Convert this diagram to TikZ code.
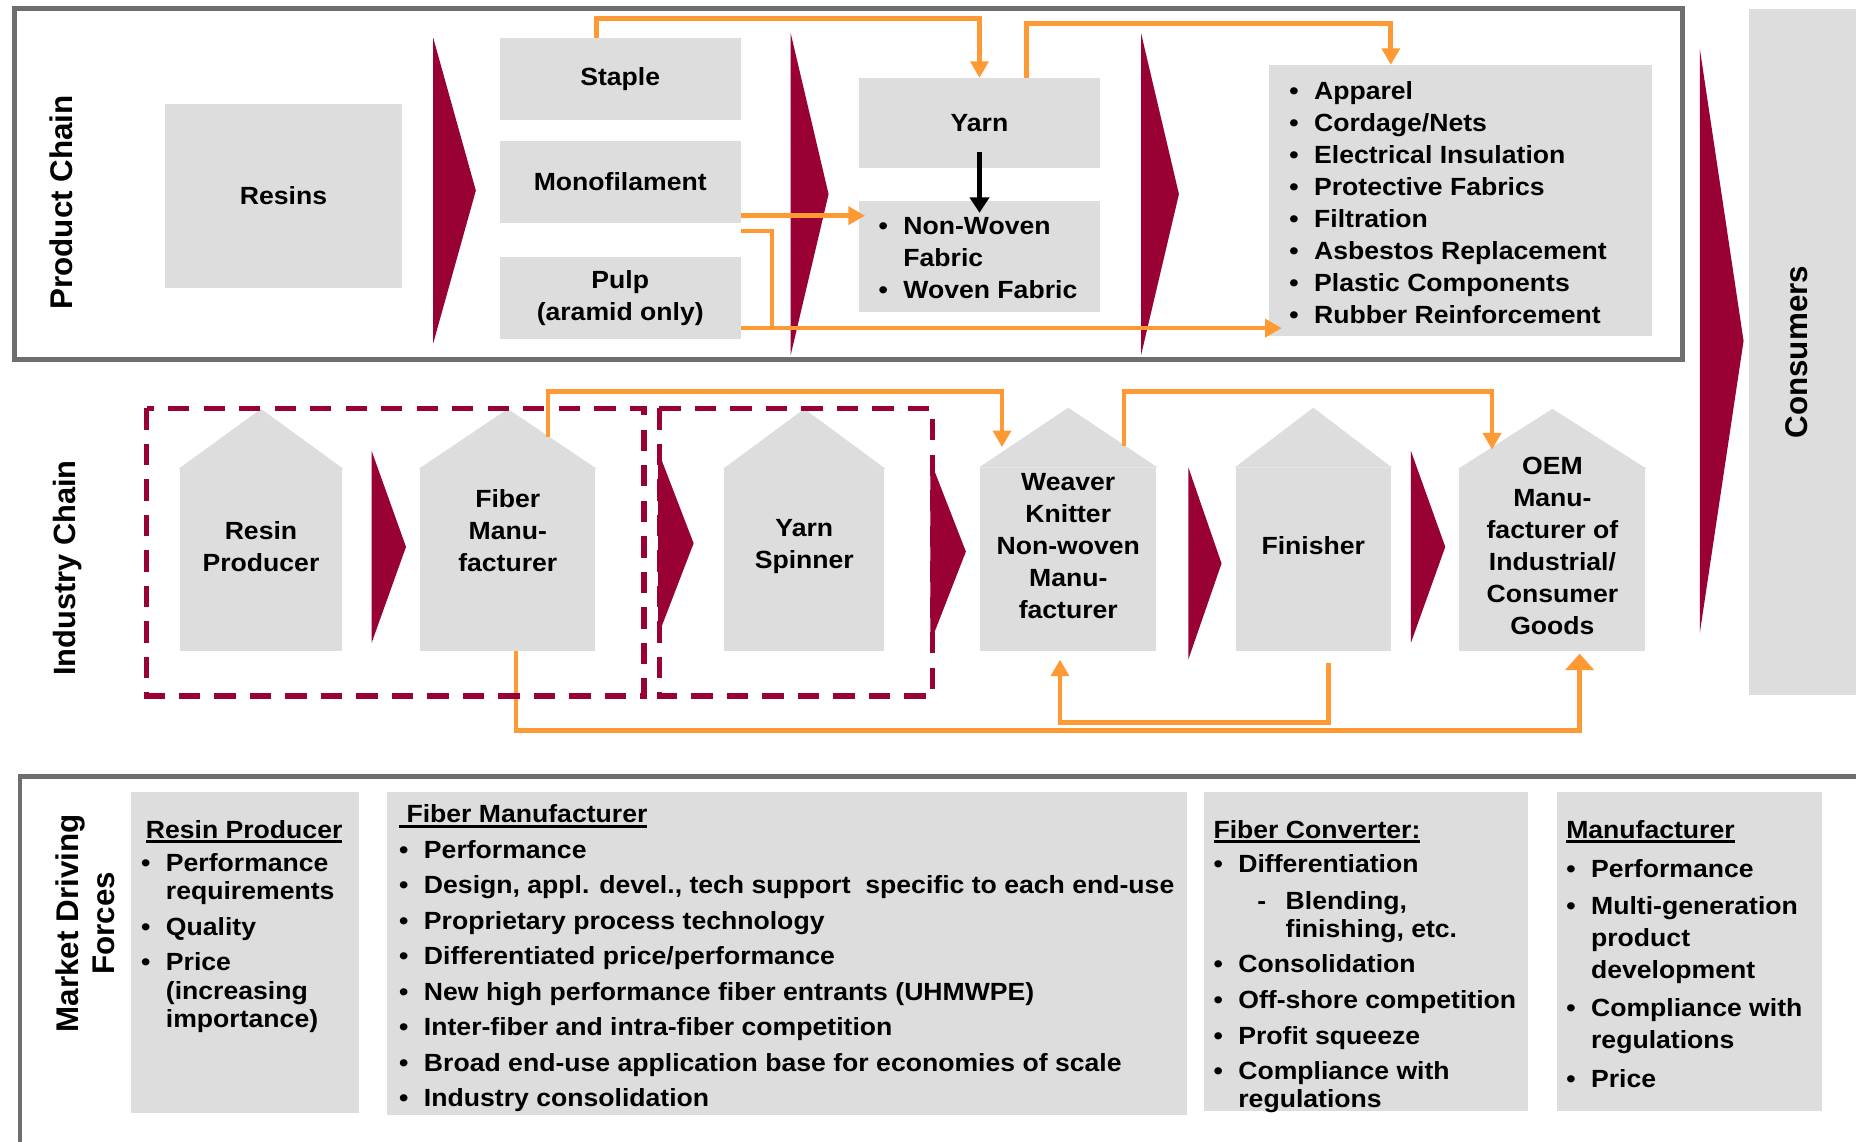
\documentclass[tikz,border=0pt]{standalone}
\usepackage{fontspec}
\setmainfont[FakeStretch=1.07]{Liberation Sans}
\newfontfamily\titlefamily{Liberation Sans}
\usetikzlibrary{arrows.meta,calc}

\definecolor{wine}{HTML}{990033}
\definecolor{feedorange}{HTML}{FF9933}
\definecolor{panelgray}{HTML}{DDDDDD}
\definecolor{framegray}{HTML}{6E6E6E}

\newsavebox\headbox
\newcommand{\itm}{\makebox[21pt][l]{\textbullet}}
\newcommand{\cont}{\hspace*{21pt}}
\newcommand{\ulhead}[1]{\sbox\headbox{#1}\rlap{\rule[-4.5pt]{\wd\headbox}{2.8pt}}\usebox\headbox}

\tikzset{
  panel/.style={fill=panelgray, inner sep=0pt, align=center},
  roof/.style={fill=panelgray, draw=panelgray, line width=0.6pt},
  housetext/.style={align=center, inner sep=0pt},
  chaintitle/.style={font=\titlefamily\bfseries\fontsize{26.5}{30}\selectfont, rotate=90, align=center, inner sep=0pt},
  listtext/.style={anchor=base west, inner sep=0pt},
  mdflist/.style={listtext, font=\bfseries\fontsize{21}{24}\selectfont},
  feed/.style={draw=feedorange, line width=4pt, -{Triangle[length=14pt,width=15pt]}},
  feedline/.style={draw=feedorange, line width=4pt},
  drop/.style={draw=black, line width=3.5pt, -{Triangle[length=13pt,width=16pt]}},
  group/.style={draw=wine, line width=4.5pt, dash pattern=on 18pt off 12pt},
  frame/.style={draw=framegray, line width=4pt},
}

\begin{document}
\begin{tikzpicture}[x=1pt,y=-1pt,font=\bfseries\fontsize{21}{27}\selectfont]
  \useasboundingbox (0,0) rectangle (1568,964);
  %
  % product chain
  \draw[frame] (12.5,7) rectangle (1421.5,304);
  \node[chaintitle] (pc) at (52,171) {Product Chain};
  \node[panel, minimum width=201pt, minimum height=155pt] (resins) at (239.5,165.5) {Resins};
  \node[panel, minimum width=204pt, minimum height=69pt] (staple) at (524,66.5) {Staple};
  \node[panel, minimum width=204pt, minimum height=69pt] (mono) at (524,153.5) {Monofilament};
  \node[panel, minimum width=204pt, minimum height=69pt] (pulp) at (524,251.5) {Pulp\\(aramid only)};
  \node[panel, minimum width=203pt, minimum height=76pt] (yarn) at (827.5,104) {Yarn};
  \node[panel, minimum width=203pt, minimum height=94pt] (fabric) at (827.5,217) {};
  \node[listtext] (fabric-t) at (742,198.5) {\begin{tabular}[t]{@{}l@{}}
    \itm Non-Woven\\ \cont Fabric\\ \itm Woven Fabric\end{tabular}};
  \node[panel, minimum width=324pt, minimum height=229pt] (apps) at (1234,169.5) {};
  \node[listtext] (apps-t) at (1089,84) {\begin{tabular}[t]{@{}l@{}}
    \itm Apparel\\ \itm Cordage/Nets\\ \itm Electrical Insulation\\
    \itm Protective Fabrics\\ \itm Filtration\\ \itm Asbestos Replacement\\
    \itm Plastic Components\\ \itm Rubber Reinforcement\end{tabular}};
  %
  \node[panel, minimum width=113pt, minimum height=580pt, anchor=north west] (cons) at (1477,7) {};
  \node[chaintitle] (cons-t) at (1518,297.5) {Consumers};
  %
  % industry chain
  \node[chaintitle, font=\titlefamily\bfseries\fontsize{26}{30}\selectfont] (ic) at (57,480) {Industry Chain};
  \node[panel, minimum width=137pt, minimum height=154pt] (rp) at (220.5,473) {};
  \node[panel, minimum width=148pt, minimum height=154pt] (fm) at (429,473) {};
  \node[panel, minimum width=135pt, minimum height=154pt] (ys) at (679.5,473) {};
  \node[panel, minimum width=149pt, minimum height=155pt] (wv) at (902.5,472.5) {};
  \node[panel, minimum width=131pt, minimum height=155pt] (fin) at (1109.5,472.5) {};
  \node[panel, minimum width=157pt, minimum height=154pt] (oem) at (1311.5,473) {};
  \foreach \n in {rp,fm,ys,wv,fin,oem}
    \fill[roof] (\n.north west) -- ($(\n.north)+(0,-50)$) -- (\n.north east) -- cycle;
  \node[housetext] (rp-t) at ($(rp)+(0,-11.5)$) {Resin\\Producer};
  \node[housetext] (fm-t) at ($(fm)+(0,-25)$) {Fiber\\Manu-\\facturer};
  \node[housetext] (ys-t) at ($(ys)+(0,-11.5)$) {Yarn\\Spinner};
  \node[housetext] (wv-t) at ($(wv)+(0,-11.5)$) {Weaver\\Knitter\\Non-woven\\Manu-\\facturer};
  \node[housetext] (fin-t) at ($(fin)+(0,-11.5)$) {Finisher};
  \node[housetext] (oem-t) at ($(oem)+(0,-11.5)$) {OEM\\Manu-\\facturer of\\Industrial/\\Consumer\\Goods};
  %
  % chevrons
  \foreach \x/\t/\b/\w in {366/32/290/36, 668/28/300/32, 964/28/300/32, 1436/41/535/37,
      314/381/543/29, 556/381/537/30, 786/389/543/30, 1004/395/557/28, 1192/381/543/29}
    \fill[wine] (\x,\t) -- ({\x+\w},{(\t+\b)/2}) -- (\x,\b) -- cycle;
  %
  % product flows
  \draw[feed] ($(staple.north)+(-20,0)$) -- ++(0,-16) -| (yarn.north);
  \draw[feed] ($(yarn.north)+(40,0)$) -- ++(0,-46) -| ($(apps.north)+(-59,0)$);
  \coordinate (m1) at ($(mono.south east)+(0,-6)$);
  \coordinate (m2) at ($(mono.south east)+(0,7)$);
  \coordinate (p1) at ($(pulp.south east)+(0,-9)$);
  \draw[feed] (m1) -- ([xshift=5pt]m1 -| fabric.west);
  \draw[feedline] (m2) -| ($(p1)+(26,0)$);
  \draw[feed] (p1) -- ([xshift=11pt]p1 -| apps.west);
  \draw[drop] ($(yarn.south)+(0,-14)$) -- ($(fabric.north)+(0,10)$);
  %
  % industry flows
  \draw[feed] ($(fm.north)+(34,-27)$) -- ++(0,-38) -| ($(wv.north)+(-56,-17)$);
  \draw[feed] ($(wv.north)+(47,-18)$) -- ++(0,-46) -| ($(oem.north)+(-51,-16)$);
  \draw[feed, -{Triangle[length=14pt,width=24pt]}] ($(fm.south)+(7,0)$) -- ++(0,67) -| ($(oem.south)+(23,2)$);
  \draw[feed] ($(fin.south)+(13,10)$) -- ++(0,50) -| ($(wv.south)+(-7,7)$);
  %
  \draw[group] (124,345) rectangle (544,588);
  \draw[group] (557,345) rectangle (788,588);
  %
  % market driving forces
  \draw[frame] (17,975) -- (17,656) -- (1580,656);
  \node[chaintitle] (mdf) at (72,780) {Market Driving\\Forces};
  \node[panel, minimum width=192pt, minimum height=271pt] (rpbox) at (207,804.5) {};
  \node[panel, minimum width=676pt, minimum height=273pt] (fmbox) at (665,805.5) {};
  \node[panel, minimum width=274pt, minimum height=270pt] (fcbox) at (1154,804) {};
  \node[panel, minimum width=224pt, minimum height=270pt] (mfbox) at (1427,804) {};
  %
  \node[mdflist] (rpbox-t) at (119,708) {\begin{tabular}[t]{@{}l@{}}
    \hspace*{4pt}\ulhead{Resin Producer}\\[4pt]
    \itm Performance\\ \cont requirements\\[6pt]
    \itm Quality\\[6pt]
    \itm Price\\ \cont (increasing\\ \cont importance)\end{tabular}};
  \node[mdflist] (fmbox-t) at (337,695) {\begin{tabular}[t]{@{}l@{}}
    \ulhead{\ Fiber Manufacturer}\\[6pt]
    \itm Performance\\[6pt]
    \itm Design, appl. devel., tech support\ \ specific to each end-use\\[6pt]
    \itm Proprietary process technology\\[6pt]
    \itm Differentiated price/performance\\[6pt]
    \itm New high performance fiber entrants (UHMWPE)\\[6pt]
    \itm Inter-fiber and intra-fiber competition\\[6pt]
    \itm Broad end-use application base for economies of scale\\[6pt]
    \itm Industry consolidation\end{tabular}};
  \node[mdflist] (fcbox-t) at (1025,708) {\begin{tabular}[t]{@{}l@{}}
    \ulhead{Fiber Converter:}\\[5pt]
    \itm Differentiation\\[7pt]
    \hspace*{37pt}\makebox[24pt][l]{-}Blending,\\ \hspace*{61pt}finishing, etc.\\[6pt]
    \itm Consolidation\\[6pt]
    \itm Off-shore competition\\[6pt]
    \itm Profit squeeze\\[6pt]
    \itm Compliance with\\ \cont regulations\end{tabular}};
  \node[listtext] (mfbox-t) at (1323,708) {\begin{tabular}[t]{@{}l@{}}
    \ulhead{Manufacturer}\\[6pt]
    \itm Performance\\[5pt]
    \itm Multi-generation\\ \cont product\\ \cont development\\[5pt]
    \itm Compliance with\\ \cont regulations\\[6pt]
    \itm Price\end{tabular}};
\end{tikzpicture}
\end{document}
